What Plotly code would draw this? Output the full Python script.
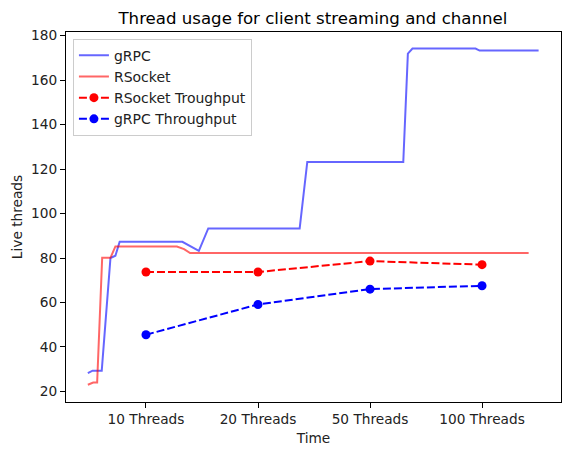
import plotly.graph_objects as go

# Time axis (sample positions) and live-thread counts
grpc_t = [4.81, 5.23, 6.05, 6.45, 6.83, 7.27, 7.65, 13.25, 14.72, 15.56, 23.72, 24.4, 32.97, 33.38, 33.79, 39.42, 39.78, 45.05]
grpc_threads = [28.2, 29.3, 29.3, 57.0, 80.0, 81.0, 87.3, 87.3, 83.2, 93.3, 93.3, 123.2, 123.2, 171.9, 174.2, 174.2, 173.3, 173.3]

rsocket_t = [4.81, 5.29, 5.64, 6.09, 6.83, 7.27, 12.76, 13.4, 13.94, 44.16]
rsocket_threads = [23.0, 24.0, 24.0, 80.1, 80.1, 85.2, 85.2, 84.0, 82.2, 82.2]

tick_pos = [10, 20, 30, 40]
tick_labels = ["10 Threads", "20 Threads", "50 Threads", "100 Threads"]

rsocket_throughput = [73.7, 73.7, 78.6, 77.0]
grpc_throughput = [45.5, 59.1, 66.0, 67.5]

font_family = "DejaVu Sans"

fig = go.Figure()
fig.add_trace(go.Scatter(x=grpc_t, y=grpc_threads, mode="lines", name="gRPC",
                         line=dict(color="rgba(0,0,255,0.6)", width=2)))
fig.add_trace(go.Scatter(x=rsocket_t, y=rsocket_threads, mode="lines", name="RSocket",
                         line=dict(color="rgba(255,0,0,0.6)", width=2)))
fig.add_trace(go.Scatter(x=tick_pos, y=rsocket_throughput, mode="lines+markers",
                         name="RSocket Troughput",
                         line=dict(color="red", width=2, dash="8px,3px"),
                         marker=dict(color="red", size=9)))
fig.add_trace(go.Scatter(x=tick_pos, y=grpc_throughput, mode="lines+markers",
                         name="gRPC Throughput",
                         line=dict(color="blue", width=2, dash="8px,3px"),
                         marker=dict(color="blue", size=9)))

axis_common = dict(showline=True, linecolor="black", linewidth=1, mirror=True,
                   ticks="outside", ticklen=5, tickcolor="black", showgrid=False,
                   zeroline=False, automargin=False, tickfont=dict(size=13.7, color="#222"))

fig.update_layout(
    width=571, height=455,
    margin=dict(l=66, r=10, t=32, b=53),
    paper_bgcolor="white", plot_bgcolor="white",
    font=dict(family=font_family, size=13.7, color="#222"),
    title=dict(text="Thread usage for client streaming and channel",
               x=0.548, xanchor="center", y=0.961, yanchor="middle",
               font=dict(size=16.6, color="black")),
    xaxis=dict(range=[2.86, 47.05], tickvals=tick_pos, ticktext=tick_labels,
               title=dict(text="Time", standoff=6, font=dict(size=13.7)), **axis_common),
    yaxis=dict(range=[15.23, 181.66], tickvals=[20, 40, 60, 80, 100, 120, 140, 160, 180],
               title=dict(text="Live threads", standoff=5, font=dict(size=13.7)), **axis_common),
    legend=dict(x=0.014, y=0.982, xanchor="left", yanchor="top",
                bgcolor="rgba(255,255,255,0.8)", bordercolor="#cccccc", borderwidth=1,
                font=dict(size=14, color="#222"), tracegroupgap=0, itemwidth=30),
    showlegend=True,
)

fig.write_html("out.html", config={"displayModeBar": False},
               post_script="document.body.style.margin='0';")
